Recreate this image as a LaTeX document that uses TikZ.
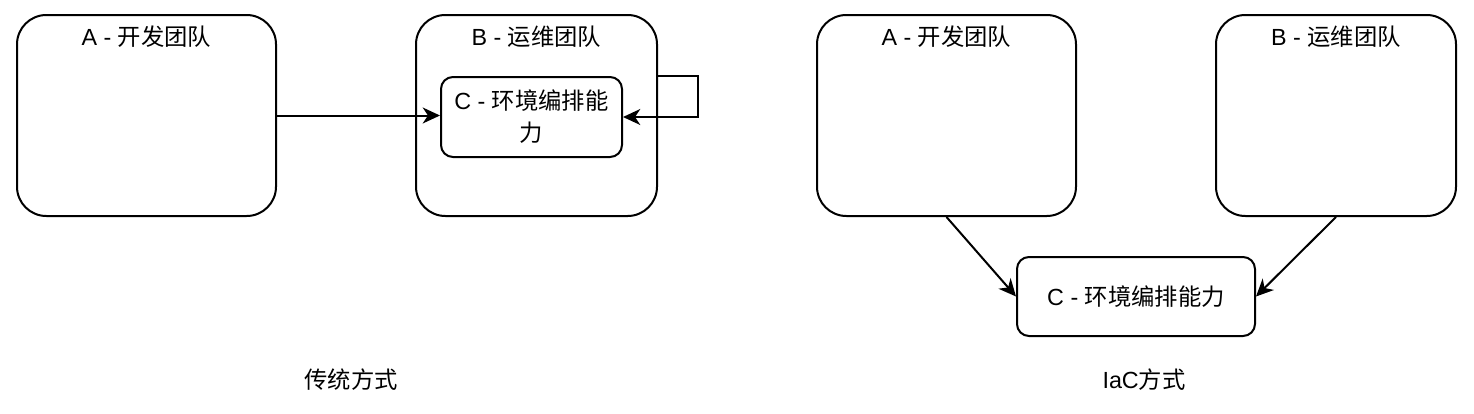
\documentclass[tikz,border=0pt]{standalone}
\usepackage{fontspec}
\newfontfamily\cjk{Noto Sans CJK SC}
\newfontfamily\lat{Liberation Sans}
\usepackage{tikz}
\usetikzlibrary{arrows.meta, positioning}
\tikzstyle{team} = [draw, line width=1.5pt, rounded corners=22pt, minimum height=150.75pt, inner sep=0pt]
\tikzstyle{teamlabel} = [anchor=center, yshift=-17pt]
\tikzstyle{task} = [draw, line width=1.5pt, rounded corners=9pt, align=center, inner sep=0pt]
\tikzstyle{flow} = [line width=1.5pt, -{Stealth[length=13pt,width=12pt,inset=4pt]}]

\begin{document}
\begin{tikzpicture}[x=0.75pt, y=-0.75pt, font=\cjk\fontsize{17.5}{24}\selectfont]
		\useasboundingbox (0,0) rectangle (1474,414);
		% traditional
		\node[team, minimum width=194.25pt, label={[teamlabel]north:{\lat A - }开发团队}] (dev) at (146.5,115.5) {};		% A
		\node[team, minimum width=180.75pt, label={[teamlabel]north:{\lat B - }运维团队}] (ops) at (536.5,115.5) {};		% B
		\node[task, minimum width=135.75pt, minimum height=60pt] (env) at (531.5,117) {{\lat C - }环境编排能\\力};		% C innerhalb B
		\node (old) at (351,380) {传统方式};
		
		% IaC
		\node[team, minimum width=194.25pt, label={[teamlabel]north:{\lat A - }开发团队}] (dev2) at (946.5,115.5) {};
		\node[team, minimum width=180pt, label={[teamlabel]north:{\lat B - }运维团队}] (ops2) at (1336,115.5) {};
		\node[task, minimum width=178.5pt, minimum height=59.25pt] (env2) at (1136,296.5) {{\lat C - }环境编排能力};
		\node (iac) at (1144,380) {{\lat IaC}方式};
		
		% arrows
		\draw[flow] (dev.east) -- (dev.east -| env.west);
		\draw[flow] (ops.east |- env.north) -- ++(40,0) |- (env.east);
		\draw[flow] (dev2.south) -- (env2.west);
		\draw[flow] (ops2.south) -- (env2.east);
\end{tikzpicture}
\end{document}
